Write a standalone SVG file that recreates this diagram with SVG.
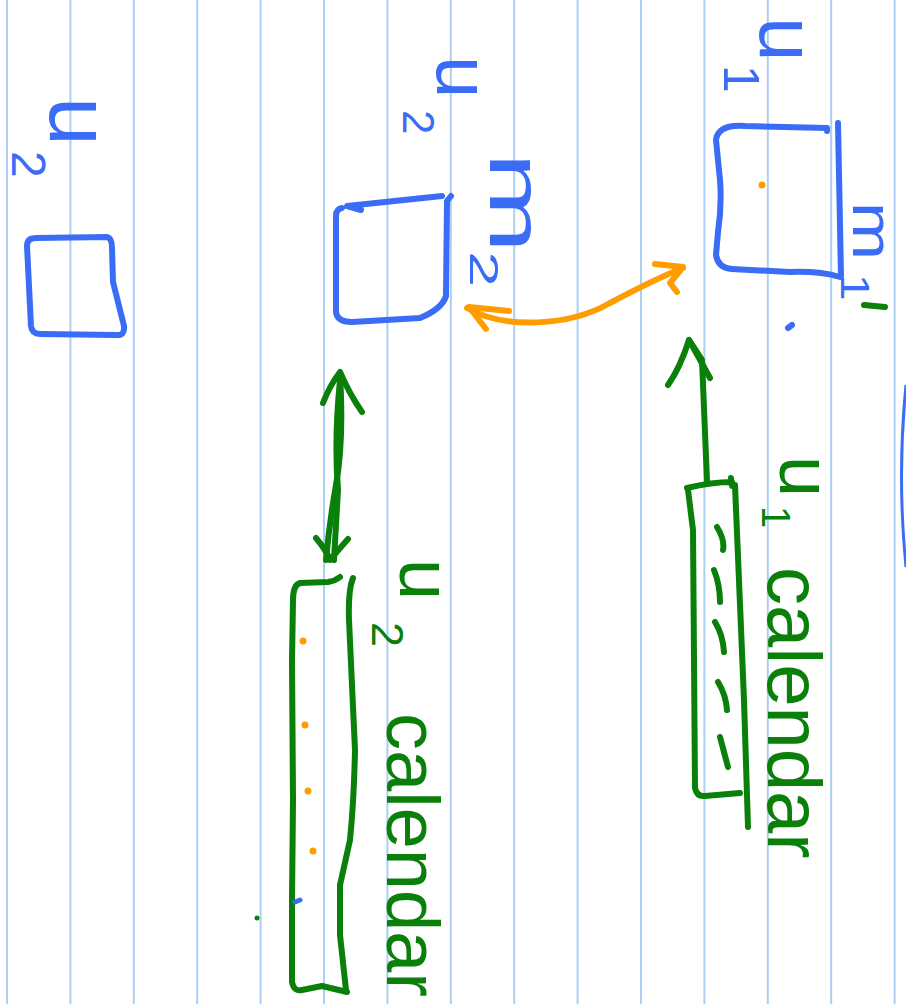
<svg xmlns="http://www.w3.org/2000/svg" width="906" height="1004" viewBox="0 0 906 1004">
<style>
.rule{stroke:#a9cff7;stroke-width:2;fill:none}
.b{stroke:#3a6cf6;stroke-width:6;fill:none;stroke-linecap:round;stroke-linejoin:round}
.g{stroke:#0a7f0a;stroke-width:6;fill:none;stroke-linecap:round;stroke-linejoin:round}
.o{stroke:#ff9d00;stroke-width:6;fill:none;stroke-linecap:round;stroke-linejoin:round}
.tb{fill:#3a6cf6;font-family:"Liberation Sans",Arial,sans-serif}
.tg{fill:#0a7f0a;font-family:"Liberation Sans",Arial,sans-serif}
</style>
<rect width="906" height="1004" fill="#ffffff"/>
<g id="ruled-lines">
<line class="rule" x1="7" y1="0" x2="7" y2="1004"/>
<line class="rule" x1="70.4" y1="0" x2="70.4" y2="1004"/>
<line class="rule" x1="133.8" y1="0" x2="133.8" y2="1004"/>
<line class="rule" x1="197.2" y1="0" x2="197.2" y2="1004"/>
<line class="rule" x1="260.6" y1="0" x2="260.6" y2="1004"/>
<line class="rule" x1="324" y1="0" x2="324" y2="1004"/>
<line class="rule" x1="387.4" y1="0" x2="387.4" y2="1004"/>
<line class="rule" x1="450.8" y1="0" x2="450.8" y2="1004"/>
<line class="rule" x1="514.2" y1="0" x2="514.2" y2="1004"/>
<line class="rule" x1="577.6" y1="0" x2="577.6" y2="1004"/>
<line class="rule" x1="641" y1="0" x2="641" y2="1004"/>
<line class="rule" x1="704.4" y1="0" x2="704.4" y2="1004"/>
<line class="rule" x1="767.8" y1="0" x2="767.8" y2="1004"/>
<line class="rule" x1="831.2" y1="0" x2="831.2" y2="1004"/>
<line class="rule" x1="894.6" y1="0" x2="894.6" y2="1004"/>
</g>

<g id="node-u2-left">
<path class="b" d="M31,326 L27,246 Q27,238 36,238 L107,237 Q112,238 112,248 L113,282 L124,326 Q125,336 116,335 L40,334 Q32,334 31,326 Z"/>
<text class="tb" transform="translate(50,97) rotate(90)" font-size="88">u<tspan x="54" y="38" font-size="48">2</tspan></text>
</g>

<g id="node-u2-box">
<path class="b" d="M361,210 L347,206 L442,196"/>
<path class="b" d="M451,196 L447,201 L446,296 Q442,309 420,318 L352,322 Q337,322 336,312 L336,216 Q336,209 342,208"/>
<text class="tb" transform="translate(437,56) rotate(90)" font-size="76">u<tspan x="54" y="34" font-size="44">2</tspan></text>
<text class="tb" transform="translate(490,152) rotate(90) scale(1.6,1)" font-size="76">m<tspan x="62" y="20" font-size="40">2</tspan></text>
</g>

<g id="node-u1-box">
<path class="b" d="M827,131 L827,128 L745,126 Q718,124 716,140 L720,180 Q722,205 718,232 L716,255 Q718,268 732,269 L790,272 Q820,271 840,277"/>
<path class="b" d="M838,123 L841,276"/>
<circle cx="762" cy="185" r="3.5" fill="#ff9d00"/>
<path class="b" d="M788,328 L792,325" stroke-width="5"/>
<text class="tb" transform="translate(760,17) rotate(90)" font-size="80">u<tspan x="48" y="36" font-size="50">1</tspan></text>
<text class="tb" transform="translate(853,202) rotate(90) scale(1.2,1)" font-size="58">m<tspan x="60" y="12" font-size="40">1</tspan></text>
<path class="g" d="M864,305 L885,307"/>
</g>

<g id="node-u1-calendar">
<path class="g" d="M687,488 Q712,482 732,482 M731,478 L732,486"/>
<path class="g" d="M735,485 Q740,600 744,700 L748,827"/>
<path class="g" d="M688,490 L693,530 L695,788 Q697,797 705,796 L740,793"/>
<path class="g" d="M717,527 Q725,540 723,550 M714,570 Q720,585 720,602 M715,622 Q723,635 724,652 M718,682 Q726,695 727,710 M720,737 L728,767" stroke-width="5"/>
<text class="tg" transform="translate(780,456) rotate(90)" font-size="74">u<tspan x="50" y="18" font-size="40">1</tspan><tspan x="111" y="12" font-size="76">calendar</tspan></text>
</g>

<g id="node-u2-calendar">
<path class="g" d="M292,660 L293,600 Q293,585 300,583 L328,582 Q335,581 340,577"/>
<path class="g" d="M292,660 L293,800 L292,900 L292,982 Q294,992 302,990 L322,986 L347,992"/>
<path class="g" d="M353,578 Q348,590 349,620 L355,750 Q354,800 350,840 L340,885 L340,935 L346,990"/>
<circle cx="303" cy="641" r="3.5" fill="#ff9d00"/>
<circle cx="305" cy="725" r="3.5" fill="#ff9d00"/>
<circle cx="308" cy="791" r="3.5" fill="#ff9d00"/>
<circle cx="313" cy="851" r="3.5" fill="#ff9d00"/>
<path d="M295,902 L300,900" stroke="#3a6cf6" stroke-width="5" stroke-linecap="round"/>
<circle cx="257" cy="918" r="2.5" fill="#0a7f0a"/>
<text class="tg" transform="translate(400,559) rotate(90)" font-size="74">u<tspan x="63" y="28" font-size="45">2</tspan><tspan x="154" y="13" font-size="74">calendar</tspan></text>
</g>

<g id="connectors">
<path class="o" d="M467,308 C505,330 570,326 610,303 C640,287 665,275 683,268"/>
<path class="o" d="M509,311 L469,307 L486,329"/>
<path class="o" d="M655,264 L683,267 L670,283 L677,292"/>
<path class="g" d="M707,481 L702,360 L689,340"/>
<path class="g" d="M668,385 Q680,368 689,340 Q698,356 710,378"/>
<path class="g" d="M340,374 Q344,440 336,485 Q329,525 326,560"/>
<path class="g" d="M340,380 Q334,440 338,490 L334,560"/>
<path class="g" d="M323,403 Q330,385 340,372 Q350,395 362,412"/>
<path class="g" d="M316,538 Q326,550 330,560 Q340,548 348,539"/>
<path d="M906,385 Q897,476 906,567" stroke="#3a6cf6" stroke-width="3" fill="none"/>
</g>
</svg>
